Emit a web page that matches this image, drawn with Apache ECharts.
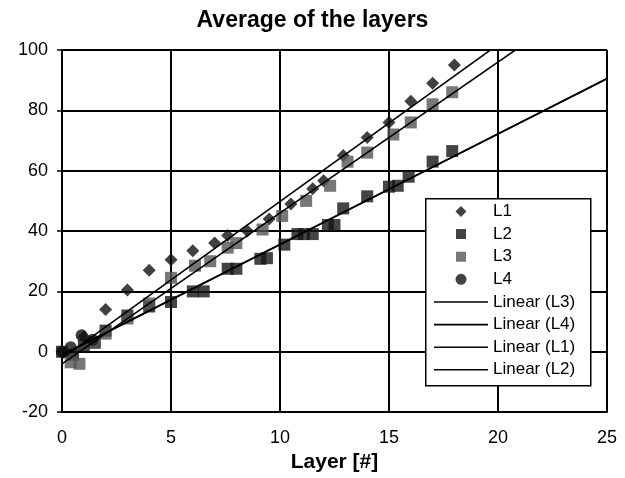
<!DOCTYPE html>
<html>
<head>
<meta charset="utf-8">
<script src="https://cdn.jsdelivr.net/npm/echarts@6/dist/echarts.min.js"></script>
<style>
html,body{margin:0;padding:0;background:#fff;}
#chart{width:625px;height:478px;}
</style>
</head>
<body>
<div id="chart"></div>
<script>
// ---- data ----
const titleText = 'Average of the layers';
const xAxisName = 'Layer [#]';

const l1X = [0, 1, 2, 3, 4, 5, 6, 7, 7.6, 8.5, 9.5, 10.5, 11.5, 12, 12.9, 14, 15, 16, 17, 18];
const l1Y = [0, 5, 14, 20.5, 27, 30.5, 33.5, 36, 38.5, 40, 44, 49, 54, 56.7, 65, 71, 76, 83, 89, 95];

const l2X = [0, 0.5, 1, 1.5, 2, 3, 4, 5, 6, 6.5, 7.6, 8, 9.1, 9.4, 10.2, 10.8, 11.1, 11.5, 12.2, 12.5, 12.9, 14, 15, 15.4, 15.9, 17, 17.9];
const l2Y = [0, -1, 2, 3, 7, 12, 15, 16.5, 20, 20, 27.5, 27.5, 30.8, 31, 35.5, 39, 39, 39, 42, 42, 47.5, 51.5, 54.7, 55, 58, 63, 66.5];

const l3X = [0.4, 0.8, 1.5, 2, 3, 4, 5, 6.1, 6.8, 7.6, 8, 9.2, 10.1, 11.2, 12.3, 13.1, 14, 15.2, 16, 17, 17.9];
const l3Y = [-3.5, -4, 3, 6, 11, 16, 24.5, 28.5, 30, 34.5, 36, 40.5, 45, 50, 55, 63, 66, 72, 76, 82, 86];

const l4X = [0, 0.4, 0.9, 1.4];
const l4Y = [0, 1.5, 5.5, 4];

// linear trend lines (slope, intercept)
const trendNames = ['Linear (L3)', 'Linear (L4)', 'Linear (L1)', 'Linear (L2)'];
const trendSlopes = [5.0, 3.66, 5.2, 3.67];
const trendIntercepts = [-4, -1.0, -2.2, -1.2];
const trendRange = [0, 25];

const markerNames = ['L1', 'L2', 'L3', 'L4'];

const xMin = 0, xMax = 25, xStep = 5;
const yMin = -20, yMax = 100, yStep = 20;

// ---- build ----
const FONT = 'Liberation Sans, Arial, Helvetica, sans-serif';
function pairs(xs, ys){ return xs.map((x, i) => [x, ys[i]]); }

const scatterDefs = [
  {name:'L1', x:l1X, y:l1Y, symbol:'diamond', size:13, color:'#111111'},
  {name:'L2', x:l2X, y:l2Y, symbol:'rect', size:12, color:'#151515'},
  {name:'L3', x:l3X, y:l3Y, symbol:'rect', size:12, color:'#555555'},
  {name:'L4', x:l4X, y:l4Y, symbol:'circle', size:12, color:'#111111'}
];

// legend icons: a centred 12px glyph inside a 54x12 box (invisible end points fix the box)
const ENDS = 'M0,6L0.01,6Z M54,6L54.01,6Z ';
const legendIcons = {
  diamond: 'path://' + ENDS + 'M21.5,6L27,0.5L32.5,6L27,11.5Z',
  rect: 'path://' + ENDS + 'M22,1L32,1L32,11L22,11Z',
  circle: 'path://' + ENDS + 'M21.5,6A5.5,5.5 0 1,1 32.5,6A5.5,5.5 0 1,1 21.5,6Z'
};

const series = [];
scatterDefs.forEach(d => {
  series.push({
    name: d.name, type: 'scatter', data: pairs(d.x, d.y),
    symbol: d.symbol, symbolSize: d.size,
    itemStyle: {color: d.color}, z: 2, silent: true
  });
});
trendNames.forEach((n, i) => {
  series.push({
    name: n, type: 'line', symbol: 'none', showSymbol: false,
    data: trendRange.map(x => [x, trendSlopes[i] * x + trendIntercepts[i]]),
    lineStyle: {color: '#000', width: 1.6},
    itemStyle: {color: '#000'},
    clip: true, z: 3, silent: true
  });
});

const legendText = {fontFamily: FONT, fontSize: 17, color: '#000'};

const chart = echarts.init(document.getElementById('chart'), null, {renderer:'canvas'});
chart.setOption({
  animation: false,
  backgroundColor: '#fff',
  title: {
    text: titleText, left: 'center', top: 4,
    textStyle: {fontFamily: FONT, fontSize: 23, fontWeight: 'bold', color: '#000'}
  },
  grid: {left: 62, right: 18, top: 50, bottom: 60, containLabel: false},
  xAxis: {
    type: 'value', min: xMin, max: xMax, interval: xStep,
    name: xAxisName, nameLocation: 'middle', nameGap: 38,
    nameTextStyle: {fontFamily: FONT, fontSize: 21, fontWeight: 'bold', color: '#000'},
    axisLine: {show: true, onZero: false, lineStyle: {color: '#000', width: 2}},
    axisTick: {show: false},
    axisLabel: {fontFamily: FONT, fontSize: 18, color: '#000', margin: 17},
    splitLine: {show: true, lineStyle: {color: '#000', width: 2}}
  },
  yAxis: {
    type: 'value', min: yMin, max: yMax, interval: yStep,
    axisLine: {show: true, lineStyle: {color: '#000', width: 2}},
    axisTick: {show: true, inside: false, length: 5, lineStyle: {color: '#000', width: 1.5}},
    axisLabel: {fontFamily: FONT, fontSize: 18, color: '#000', margin: 14},
    splitLine: {show: true, lineStyle: {color: '#000', width: 2}}
  },
  graphic: [{
    type: 'rect', left: 425, top: 198, z: 50,
    shape: {width: 165, height: 187},
    style: {fill: '#fff', stroke: '#000', lineWidth: 1.5},
    silent: true
  }],
  legend: [{
    orient: 'vertical', left: 425, top: 203,
    data: markerNames.map((n, i) => ({name: n, icon: legendIcons[scatterDefs[i].symbol]})),
    itemWidth: 54, itemHeight: 12, itemGap: 5.6,
    padding: [0, 0, 0, 9],
    textStyle: legendText,
    selectedMode: false, z: 60
  }, {
    orient: 'vertical', left: 425, top: 293.5,
    data: trendNames.map(n => ({name: n, icon: 'rect'})),
    itemWidth: 54, itemHeight: 1.6, itemGap: 5.6,
    padding: [0, 0, 0, 9],
    textStyle: legendText,
    selectedMode: false, z: 60
  }],
  series: series
});
</script>
</body>
</html>
